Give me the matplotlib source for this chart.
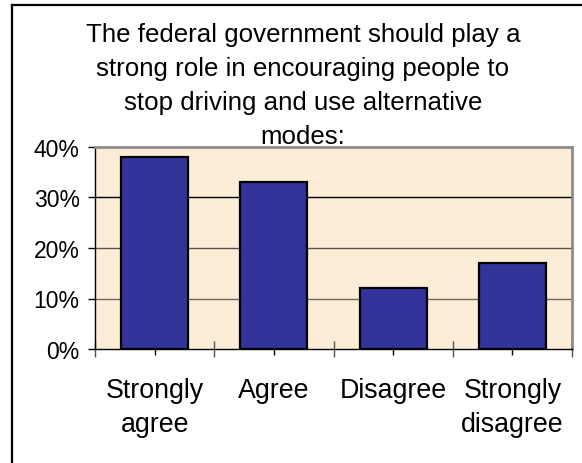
import numpy as np
import matplotlib
matplotlib.use('Agg')
from matplotlib import pyplot as plt
from matplotlib.ticker import FixedLocator, PercentFormatter
from matplotlib.lines import Line2D

# survey responses, share of respondents (%)
categories = ['Strongly\nagree', 'Agree', 'Disagree', 'Strongly\ndisagree']
shares = [38, 33, 12, 17]
title = ('The federal government should play a\n'
         'strong role in encouraging people to\n'
         'stop driving and use alternative\n'
         'modes:')

plt.rcParams['font.family'] = ['Liberation Sans', 'DejaVu Sans']

W, H = 582, 464
fig = plt.figure(figsize=(W / 100, H / 100), dpi=100)
fig.patch.set_facecolor('white')

# frame around the chart (left and top edges visible)
fig.add_artist(Line2D([12 / W, 12 / W], [0, 1 - 6 / H], transform=fig.transFigure,
                      color='black', lw=1.6))
fig.add_artist(Line2D([12 / W, 1], [1 - 6 / H, 1 - 6 / H], transform=fig.transFigure,
                      color='black', lw=1.6))

ax = fig.add_axes([95 / W, 1 - 350 / H, 477 / W, 202 / H])
ax.set_facecolor('#FCEDD6')

x = np.arange(len(categories))
ax.bar(x, shares, width=0.56, color='#333399', edgecolor='black', linewidth=1.6, zorder=3)

ax.set_xlim(-0.5, len(categories) - 0.5)
ax.set_ylim(0, 40)
ax.set_yticks([0, 10, 20, 30, 40])
ax.yaxis.set_major_formatter(PercentFormatter(decimals=0))
for y, c in [(10, '#6f6558'), (20, '#5a5248'), (30, 'black')]:
    ax.axhline(y, color=c, lw=1.0, zorder=1)

ax.spines['top'].set_color('#8c8c8c')
ax.spines['right'].set_color('#8c8c8c')
ax.spines['top'].set_linewidth(2)
ax.spines['right'].set_linewidth(2)
ax.spines['left'].set_color('black')
ax.spines['bottom'].set_color('black')
ax.spines['left'].set_linewidth(1)
ax.spines['bottom'].set_linewidth(1)

# category labels on the centre ticks, boundary ticks between groups
ax.set_xticks(x)
ax.set_xticklabels(categories, fontsize=19.3, linespacing=1.4)
ax.xaxis.set_minor_locator(FixedLocator(np.arange(len(categories) + 1) - 0.5))
ax.tick_params(axis='x', which='major', direction='inout', length=9, width=1,
               color='black', pad=16)
ax.tick_params(axis='x', which='minor', direction='inout', length=12, width=1,
               color='#555555')
ax.tick_params(axis='y', direction='out', length=5, width=1, color='black',
               labelsize=16.5, pad=6)
for t in ax.xaxis.get_major_ticks():
    t.tick1line.set_zorder(5)

# title overlaps the top of the plot area slightly, drawn above it
fig.text(303 / W, 1 - 23 / H, title, ha='center', va='top', fontsize=18.6,
         linespacing=1.53, zorder=10)

fig.savefig('out.png', dpi=100, facecolor='white')
